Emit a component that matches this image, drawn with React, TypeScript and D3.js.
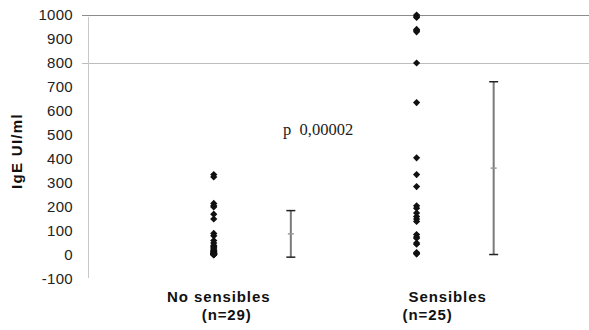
import React, { useRef, useEffect } from 'react';
import * as d3 from 'd3';

// scatter positions of each group and the positions of their mean ± SD bars
const groupX = [1, 2];
const barX = [1.38, 2.38];
const groupLabels = ['No sensibles', 'Sensibles'];
const groupN = ['(n=29)', '(n=25)'];

const noSensibles = [335, 325, 215, 205, 200, 170, 150, 90, 80, 60, 50, 40, 35, 30, 25, 20, 18, 15, 12, 10, 8, 6, 5, 5, 4, 3, 2, 1, 0];
const sensibles = [1000, 995, 990, 940, 935, 930, 800, 635, 405, 335, 285, 205, 195, 175, 160, 150, 140, 85, 75, 70, 50, 45, 10, 5, 5];

const means = [88, 362];
const sds = [97, 360];

const yTicks = [-100, 0, 100, 200, 300, 400, 500, 600, 700, 800, 900, 1000];
const gridValues = [1000, 800];
const pText = 'p  0,00002';

function App() {
  const svgRef = useRef<SVGSVGElement>(null);

  useEffect(() => {
    const width = 589;
    const height = 330;
    const svg = d3.select(svgRef.current);
    svg.selectAll('*').remove();

    const x = d3.scaleLinear().domain([0.38, 2.85]).range([88, 589]);
    const y = d3.scaleLinear().domain([-100, 1000]).range([279, 15]);

    // grid lines (only 800 and 1000 in the original)
    svg.append('g')
      .selectAll('line')
      .data(gridValues)
      .join('line')
        .attr('x1', 82)
        .attr('x2', width)
        .attr('y1', d => y(d) + 0.5)
        .attr('y2', d => y(d) + 0.5)
        .attr('stroke', d => d === 1000 ? '#8c8c8c' : '#bdbdbd')
        .attr('stroke-width', 1);

    // y axis line
    svg.append('line')
      .attr('x1', 88.5).attr('x2', 88.5)
      .attr('y1', y(1000) + 2).attr('y2', y(-100) - 1)
      .attr('stroke', '#c8c8c8');

    // tick labels
    svg.append('g')
      .style('font', '15px "Liberation Sans", Arial, sans-serif')
      .style('letter-spacing', '0.3px')
      .attr('fill', '#222')
      .attr('text-anchor', 'end')
      .selectAll('text')
      .data(yTicks)
      .join('text')
        .attr('x', 73)
        .attr('y', d => y(d))
        .attr('dy', '0.36em')
        .text(d => d);

    // axis title
    svg.append('text')
      .attr('transform', `translate(22,151) rotate(-90)`)
      .attr('text-anchor', 'middle')
      .style('font', 'bold 15px "Liberation Sans", Arial, sans-serif')
      .style('letter-spacing', '1.3px')
      .attr('fill', '#111')
      .text('IgE UI/ml');

    // points
    const diamond = d3.symbol(d3.symbolSquare, 26)();
    [noSensibles, sensibles].forEach((vals, i) => {
      svg.append('g')
        .selectAll('path')
        .data(vals)
        .join('path')
          .attr('d', diamond)
          .attr('transform', d => `translate(${x(groupX[i])},${y(d)}) rotate(45)`)
          .attr('fill', '#111');
    });

    // mean ± SD bars
    const bars = svg.append('g')
      .selectAll('g')
      .data(means.map((m, i) => ({ m, sd: sds[i], bx: barX[i] })))
      .join('g');

    bars.append('line')
      .attr('x1', d => x(d.bx)).attr('x2', d => x(d.bx))
      .attr('y1', d => y(d.m + d.sd)).attr('y2', d => y(d.m - d.sd))
      .attr('stroke', '#7a7a7a')
      .attr('stroke-width', 2);

    bars.selectAll('line.cap')
      .data(d => [d.m + d.sd, d.m - d.sd].map(v => ({ v, bx: d.bx })))
      .join('line')
        .attr('class', 'cap')
        .attr('x1', d => x(d.bx) - 4.5).attr('x2', d => x(d.bx) + 4.5)
        .attr('y1', d => y(d.v)).attr('y2', d => y(d.v))
        .attr('stroke', '#222')
        .attr('stroke-width', 1.5);

    bars.append('line')
      .attr('x1', d => x(d.bx) - 3).attr('x2', d => x(d.bx) + 3)
      .attr('y1', d => y(d.m)).attr('y2', d => y(d.m))
      .attr('stroke', '#999')
      .attr('stroke-width', 1.5);

    // category labels
    const labelFont = 'bold 15px "Liberation Sans", Arial, sans-serif';
    const nameOffset = [5, 31];
    const nOffset = [13, 11];
    groupX.forEach((g, i) => {
      svg.append('text')
        .attr('x', x(g) + nameOffset[i])
        .attr('y', 302)
        .attr('text-anchor', 'middle')
        .style('font', labelFont)
        .style('letter-spacing', '0.9px')
        .attr('fill', '#111')
        .text(groupLabels[i]);
      svg.append('text')
        .attr('x', x(g) + nOffset[i])
        .attr('y', 319.5)
        .attr('text-anchor', 'middle')
        .style('font', labelFont)
        .style('letter-spacing', '0.9px')
        .attr('fill', '#111')
        .text(groupN[i]);
    });

    // p value
    svg.append('text')
      .attr('x', 283)
      .attr('y', 135)
      .style('font', '16.5px "Liberation Serif", "Times New Roman", serif')
      .style('white-space', 'pre')
      .attr('xml:space', 'preserve')
      .attr('fill', '#222')
      .text(pText);

    svg.attr('width', width).attr('height', height);
  }, []);

  return (
    <svg
      ref={svgRef}
      width={589}
      height={330}
      style={{ position: 'absolute', left: 0, top: 0, background: '#fff' }}
    />
  );
}

export default App;
